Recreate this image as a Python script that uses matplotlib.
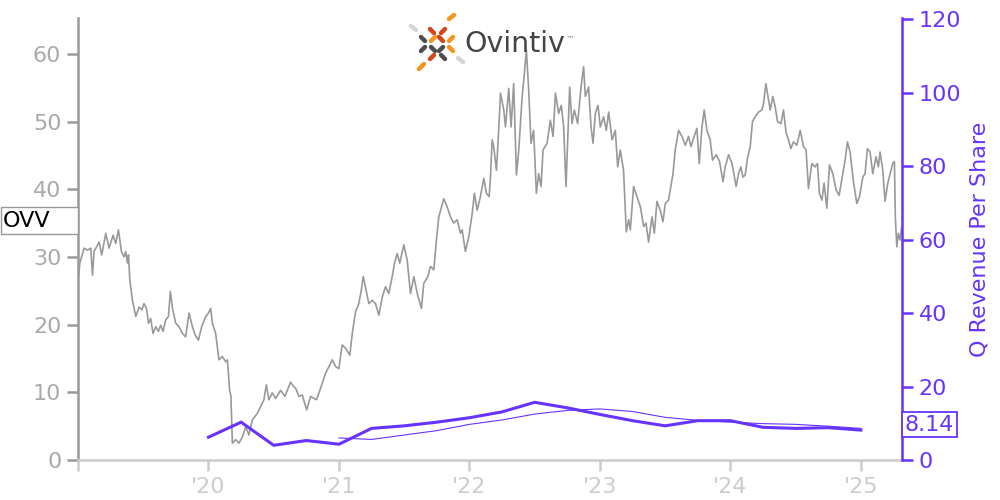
import matplotlib
matplotlib.use("Agg")
import matplotlib.pyplot as plt
from matplotlib.lines import Line2D
from matplotlib.patches import Rectangle

# ---------------- data ----------------
price_t = [2019.004, 2019.014, 2019.047, 2019.073, 2019.098, 2019.111, 2019.123, 2019.162, 2019.182, 2019.213,
           2019.238, 2019.269, 2019.289, 2019.310, 2019.333, 2019.353, 2019.366, 2019.379, 2019.387, 2019.397,
           2019.417, 2019.443, 2019.468, 2019.489, 2019.506, 2019.525, 2019.540, 2019.557, 2019.575, 2019.596,
           2019.616, 2019.634, 2019.652, 2019.672, 2019.693, 2019.708, 2019.724, 2019.749, 2019.774, 2019.800,
           2019.825, 2019.851, 2019.877, 2019.897, 2019.923, 2019.948, 2019.979, 2019.999, 2020.017, 2020.030,
           2020.055, 2020.080, 2020.106, 2020.132, 2020.145, 2020.162, 2020.172, 2020.183, 2020.208, 2020.234,
           2020.260, 2020.285, 2020.310, 2020.336, 2020.374, 2020.400, 2020.425, 2020.443, 2020.463, 2020.489,
           2020.515, 2020.553, 2020.586, 2020.629, 2020.655, 2020.668, 2020.693, 2020.719, 2020.752, 2020.783,
           2020.808, 2020.828, 2020.859, 2020.897, 2020.923, 2020.949, 2020.974, 2020.999, 2021.025, 2021.051,
           2021.083, 2021.102, 2021.127, 2021.152, 2021.171, 2021.186, 2021.204, 2021.229, 2021.255, 2021.280,
           2021.306, 2021.332, 2021.357, 2021.382, 2021.408, 2021.426, 2021.446, 2021.466, 2021.497, 2021.523,
           2021.548, 2021.574, 2021.600, 2021.632, 2021.650, 2021.681, 2021.701, 2021.727, 2021.747, 2021.765,
           2021.803, 2021.829, 2021.855, 2021.880, 2021.906, 2021.931, 2021.944, 2021.969, 2021.995, 2022.021,
           2022.038, 2022.059, 2022.084, 2022.110, 2022.130, 2022.151, 2022.161, 2022.174, 2022.186, 2022.207,
           2022.224, 2022.238, 2022.263, 2022.276, 2022.301, 2022.319, 2022.339, 2022.360, 2022.378, 2022.404,
           2022.421, 2022.436, 2022.454, 2022.472, 2022.492, 2022.513, 2022.531, 2022.549, 2022.564, 2022.595,
           2022.620, 2022.641, 2022.659, 2022.684, 2022.704, 2022.722, 2022.740, 2022.768, 2022.786, 2022.804,
           2022.829, 2022.855, 2022.875, 2022.888, 2022.913, 2022.932, 2022.947, 2022.965, 2022.985, 2023.003,
           2023.028, 2023.049, 2023.067, 2023.093, 2023.118, 2023.136, 2023.156, 2023.181, 2023.202, 2023.220,
           2023.233, 2023.258, 2023.284, 2023.310, 2023.335, 2023.353, 2023.373, 2023.399, 2023.417, 2023.437,
           2023.462, 2023.483, 2023.501, 2023.526, 2023.539, 2023.560, 2023.577, 2023.603, 2023.629, 2023.654,
           2023.679, 2023.698, 2023.717, 2023.743, 2023.761, 2023.782, 2023.799, 2023.820, 2023.845, 2023.863,
           2023.891, 2023.917, 2023.943, 2023.960, 2023.986, 2024.012, 2024.044, 2024.062, 2024.080, 2024.096,
           2024.113, 2024.131, 2024.152, 2024.169, 2024.190, 2024.215, 2024.241, 2024.254, 2024.272, 2024.292,
           2024.305, 2024.325, 2024.343, 2024.361, 2024.387, 2024.407, 2024.427, 2024.445, 2024.463, 2024.483,
           2024.509, 2024.535, 2024.560, 2024.580, 2024.598, 2024.624, 2024.649, 2024.667, 2024.682, 2024.701,
           2024.718, 2024.739, 2024.759, 2024.785, 2024.810, 2024.833, 2024.861, 2024.879, 2024.897, 2024.917,
           2024.943, 2024.969, 2024.989, 2025.015, 2025.032, 2025.050, 2025.070, 2025.091, 2025.116, 2025.134,
           2025.147, 2025.168, 2025.185, 2025.206, 2025.224, 2025.244, 2025.257, 2025.264, 2025.275, 2025.287,
           2025.300, 2025.313]
price_v = [27.1, 29.1, 31.3, 31.0, 31.3, 27.3, 30.8, 32.2, 30.3, 33.5,
           31.3, 33.2, 32.0, 34.0, 30.8, 30.0, 30.8, 29.1, 30.3, 26.6,
           23.6, 21.2, 22.6, 22.2, 23.1, 22.4, 20.2, 20.9, 18.7, 19.7,
           19.0, 19.9, 19.0, 20.7, 21.2, 24.9, 22.4, 20.2, 19.7, 18.7,
           18.2, 21.7, 19.7, 18.5, 17.7, 19.7, 21.2, 21.7, 22.4, 20.2,
           18.7, 14.8, 15.3, 14.5, 14.8, 10.3, 9.4, 2.5, 3.0, 2.5,
           3.4, 4.9, 3.7, 5.9, 6.9, 7.9, 8.9, 11.1, 8.9, 9.9,
           9.1, 10.3, 9.4, 11.5, 10.8, 10.6, 9.4, 9.6, 7.4, 9.4,
           9.1, 8.9, 10.6, 12.8, 13.8, 14.8, 13.8, 13.5, 17.0, 16.5,
           15.5, 18.7, 21.9, 23.1, 25.1, 27.1, 25.4, 23.1, 23.6, 23.1,
           21.4, 24.1, 25.6, 24.6, 27.1, 29.1, 30.5, 29.1, 31.8, 29.5,
           24.6, 27.1, 24.6, 22.4, 26.1, 27.1, 28.6, 28.1, 32.5, 35.9,
           38.6, 37.4, 35.9, 35.0, 35.5, 33.5, 34.0, 30.8, 33.0, 36.4,
           39.4, 36.9, 38.9, 41.6, 39.4, 38.9, 41.8, 47.3, 46.3, 42.8,
           48.7, 54.2, 51.7, 49.2, 54.9, 49.2, 55.6, 42.1, 45.8, 53.7,
           57.1, 60.6, 54.7, 46.8, 48.7, 39.4, 42.3, 40.4, 45.8, 46.8,
           50.2, 47.8, 54.2, 51.2, 52.4, 49.2, 40.4, 55.1, 49.7, 51.7,
           49.7, 55.1, 58.1, 53.7, 55.1, 49.2, 46.8, 51.2, 52.4, 49.2,
           50.7, 48.7, 51.4, 47.3, 48.7, 43.3, 45.8, 42.8, 33.7, 35.5,
           34.0, 40.4, 38.9, 37.4, 34.5, 35.0, 32.2, 35.9, 33.5, 38.2,
           36.9, 35.2, 37.9, 38.4, 39.9, 42.3, 45.8, 48.7, 47.8, 46.5,
           47.8, 46.3, 47.5, 49.0, 43.8, 49.2, 51.7, 48.7, 47.3, 44.3,
           45.1, 44.1, 41.1, 43.3, 45.1, 43.8, 40.4, 42.3, 43.3, 41.8,
           42.1, 44.6, 46.3, 50.0, 50.7, 51.4, 51.7, 52.7, 55.6, 53.2,
           51.7, 53.7, 52.2, 50.0, 49.7, 51.7, 48.3, 47.3, 46.0, 47.0,
           46.5, 48.7, 46.3, 45.8, 40.1, 43.8, 43.3, 43.8, 39.4, 38.4,
           40.9, 37.2, 43.6, 42.3, 39.9, 39.1, 42.3, 44.3, 47.0, 45.5,
           41.1, 37.9, 38.9, 41.8, 42.3, 46.0, 45.5, 42.3, 44.8, 43.3,
           45.5, 42.8, 38.2, 40.9, 42.3, 43.8, 44.1, 35.9, 31.5, 33.5,
           32.5, 34.5]

q_t = [2020.00, 2020.25, 2020.50, 2020.75, 2021.00, 2021.25, 2021.50, 2021.75,
       2022.00, 2022.25, 2022.50, 2022.75, 2023.00, 2023.25, 2023.50, 2023.75,
       2024.00, 2024.25, 2024.50, 2024.75, 2025.00]
q_rev = [6.2, 10.3, 4.0, 5.3, 4.3, 8.6, 9.3, 10.3,
         11.5, 13.1, 15.7, 14.2, 12.4, 10.7, 9.3, 10.7,
         10.7, 8.9, 8.6, 8.8, 8.14]

avg_t = [2021.00, 2021.25, 2021.50, 2021.75, 2022.00, 2022.25, 2022.50, 2022.75,
         2023.00, 2023.25, 2023.50, 2023.75, 2024.00, 2024.25, 2024.50, 2024.75, 2025.00]
avg_rev = [6.0, 5.6, 6.8, 8.0, 9.7, 10.9, 12.5, 13.5,
           13.9, 13.2, 11.6, 10.8, 10.3, 9.9, 9.7, 9.2, 8.6]

x_ticks = [2019, 2020, 2021, 2022, 2023, 2024, 2025]
x_labels = ["", "'20", "'21", "'22", "'23", "'24", "'25"]
left_ticks = [0, 10, 20, 30, 40, 50, 60]
right_ticks = [0, 20, 40, 60, 80, 100, 120]

ticker = "OVV"
last_label = "8.14"
right_label = "Q Revenue Per Share"

# ---------------- style ----------------
PURPLE = "#6633ff"
GRAY_LINE = "#999999"
FS = 16

fig = plt.figure(figsize=(10, 5), dpi=100)
ax = fig.add_axes([0.078, 0.08, 0.824, 0.884])
ax2 = ax.twinx()

ax.plot(price_t, price_v, color=GRAY_LINE, lw=1.2, zorder=2)
ax2.plot(q_t, q_rev, color=PURPLE, lw=2.2, solid_joinstyle="miter", zorder=3)
ax2.plot(avg_t, avg_rev, color=PURPLE, lw=0.8, zorder=3)

ax.set_xlim(2019.0, 2025.315)
ax.set_ylim(0, 65.3)
ax2.set_ylim(0, 120.3)

ax.set_xticks(x_ticks)
ax.set_xticklabels(x_labels)
ax.set_yticks(left_ticks)
ax2.set_yticks(right_ticks)

for s in ["top", "right"]:
    ax.spines[s].set_visible(False)
for s in ["top", "left", "bottom"]:
    ax2.spines[s].set_visible(False)
ax.spines["left"].set_color("#999999")
ax.spines["left"].set_linewidth(1.8)
ax.spines["bottom"].set_color("#cccccc")
ax.spines["bottom"].set_linewidth(1.8)
ax2.spines["right"].set_color(PURPLE)
ax2.spines["right"].set_linewidth(1.8)

ax.tick_params(axis="y", colors="#999999", labelcolor="#aaaaaa", labelsize=FS,
               length=8, width=1.8, pad=4)
ax.tick_params(axis="x", colors="#cccccc", labelcolor="#cccccc", labelsize=FS,
               length=8, width=1.8, pad=4)
ax2.tick_params(axis="y", colors=PURPLE, labelcolor=PURPLE, labelsize=FS,
                length=8, width=1.8, pad=4)
ax2.set_ylabel(right_label, color=PURPLE, fontsize=FS, labelpad=6)

# ticker box on the left
fig.add_artist(Rectangle((0.0005, 1 - 234 / 500), 0.0775, 27 / 500, transform=fig.transFigure,
                         fc="white", ec="#999999", lw=1.0, zorder=5))
fig.text(0.003, 1 - 220.5 / 500, ticker, fontsize=FS, color="black", va="center", ha="left",
         zorder=6)

# last value box on the right
ax2.annotate(last_label, xy=(1.0, q_rev[-1]), xycoords=("axes fraction", "data"),
             xytext=(2, 4), textcoords="offset points", fontsize=FS, color=PURPLE,
             va="center", ha="left",
             bbox=dict(boxstyle="square,pad=0.12", fc="white", ec=PURPLE, lw=1.3))

# ---------------- logo ----------------
def seg(x0, y0, x1, y1, c):
    fig.add_artist(Line2D([x0 / 1000, x1 / 1000], [1 - y0 / 500, 1 - y1 / 500],
                          color=c, lw=3.2, solid_capstyle="round", transform=fig.transFigure))

OR = "#f7941d"
RD = "#d4451a"
DK = "#4d4d4d"
LG = "#d6d6d6"
seg(411, 26, 416, 30, LG)
seg(458, 58, 463, 62, LG)
seg(449, 19, 454, 15, OR)
seg(419, 69, 424, 64, OR)
# left cluster
seg(421, 37, 425, 41, DK)
seg(421, 51, 425, 47, DK)
seg(431, 41, 435, 37, OR)
seg(431, 47, 435, 51, DK)
seg(430, 29, 434, 33, RD)
seg(430, 59, 434, 55, RD)
# right cluster
seg(439, 37, 443, 41, RD)
seg(439, 51, 443, 47, DK)
seg(449, 41, 453, 37, OR)
seg(449, 47, 453, 51, OR)
seg(441, 33, 445, 29, RD)
seg(441, 55, 445, 59, DK)

fig.text(0.464, 1 - 44 / 500, "Ovintiv", fontsize=20.5, color="#444444", va="center", ha="left")
fig.text(0.567, 1 - 38 / 500, "™", fontsize=5, color="#666666", va="center", ha="left")

fig.savefig("out.png", dpi=100)
